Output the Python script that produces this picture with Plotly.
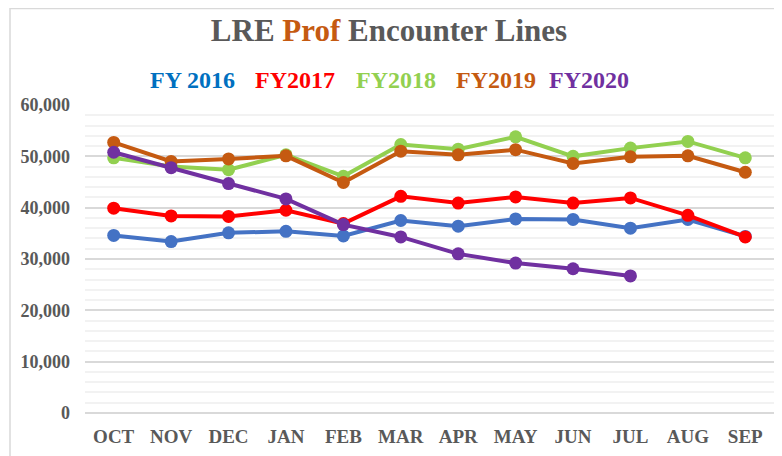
import plotly.graph_objects as go

months = ["OCT", "NOV", "DEC", "JAN", "FEB", "MAR", "APR", "MAY", "JUN", "JUL", "AUG", "SEP"]
fy2016 = [34600, 33400, 35100, 35400, 34500, 37500, 36400, 37800, 37700, 36000, 37700, 34400]
fy2017 = [39900, 38400, 38300, 39500, 36900, 42200, 40900, 42100, 40900, 41900, 38500, 34300]
fy2018 = [49700, 48000, 47400, 50300, 46100, 52300, 51400, 53800, 50000, 51600, 52900, 49700]
fy2019 = [52700, 49000, 49500, 50100, 44900, 51000, 50300, 51300, 48600, 49900, 50100, 46900]
fy2020 = [50800, 47800, 44700, 41700, 36700, 34300, 31000, 29200, 28100, 26700]

series = [
    ("FY 2016", fy2016, "#4472C4", "#0070C0"),
    ("FY2017", fy2017, "#FF0000", "#FF0000"),
    ("FY2018", fy2018, "#92D050", "#92D050"),
    ("FY2019", fy2019, "#C55A11", "#C55A11"),
    ("FY2020", fy2020, "#7030A0", "#7030A0"),
]

FONT = "Liberation Serif"
GRAY = "#595959"

# figure pixel geometry (page has an 8px body margin)
W, H = 774, 448
L, R, T, B = 77, 8, 97, 43
PW, PH = W - L - R, H - T - B


def px(fx):
    return (fx - L) / PW


def py(fy):
    return (H - B - fy) / PH


fig = go.Figure()
for name, vals, col, _ in series:
    fig.add_trace(go.Scatter(
        x=months[:len(vals)], y=vals, name=name, mode="lines+markers",
        line=dict(color=col, width=4), marker=dict(color=col, size=13),
        showlegend=False,
    ))

legend_x = [184, 287, 388, 488, 581]
annotations = []
for (name, _, _, tcol), lx in zip(series, legend_x):
    annotations.append(dict(
        text=f"<b>{name}</b>", x=px(lx), y=py(72),
        xref="paper", yref="paper", xanchor="center", yanchor="middle",
        showarrow=False, font=dict(family=FONT, size=24, color=tcol),
    ))

fig.update_layout(
    width=W, height=H,
    margin=dict(l=L, r=R, t=T, b=B),
    paper_bgcolor="white", plot_bgcolor="white",
    title=dict(
        text="<b>LRE <span style='color:#C55A11'>Prof</span> Encounter Lines</b>",
        xref="container", x=381 / W, xanchor="center", y=1 - 22 / H, yanchor="middle",
        font=dict(family=FONT, size=31, color=GRAY),
    ),
    annotations=annotations,
    xaxis=dict(
        type="category", categoryorder="array", categoryarray=months,
        range=[-0.5, 11.5], showgrid=False, showline=False, zeroline=False,
        tickfont=dict(family=FONT, size=19, color=GRAY), ticks="",
        tickprefix="<b>", ticksuffix="</b>", ticklabelstandoff=10,
    ),
    yaxis=dict(
        range=[0, 60000], dtick=10000, tickformat=",d",
        gridcolor="#D9D9D9", gridwidth=1.5, zeroline=True, zerolinecolor="#D9D9D9",
        zerolinewidth=2,
        minor=dict(dtick=2000, showgrid=True, gridcolor="#F2F2F2", gridwidth=1.5),
        tickfont=dict(family=FONT, size=18, color=GRAY), ticks="",
        tickprefix="<b>", ticksuffix="</b>", ticklabelstandoff=14,
    ),
    shapes=[dict(
        type="rect", xref="paper", yref="paper",
        x0=px(2), x1=px(772), y0=-0.5, y1=py(0.5),
        line=dict(color="#D9D9D9", width=1.5), fillcolor="rgba(0,0,0,0)", layer="below",
    )],
)

fig.write_html("out.html")
